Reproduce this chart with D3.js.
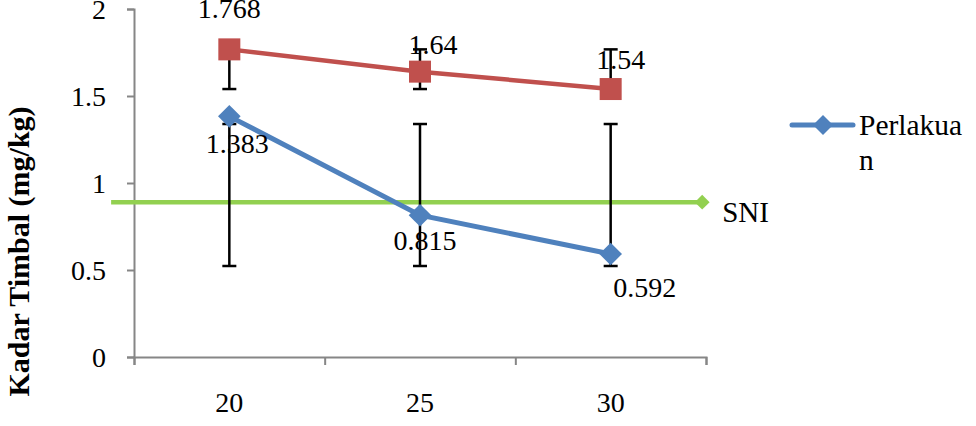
<!DOCTYPE html>
<html><head><meta charset="utf-8">
<script src="https://cdn.jsdelivr.net/npm/d3@7"></script>
<style>
html,body{margin:0;padding:0;background:#fff;}
</style></head>
<body><svg id="c" width="976" height="426"></svg>
<script>
// ---- data ----
const categories = [20, 25, 30];
const redValues = [1.768, 1.64, 1.54];
const redErrLow = [1.54, 1.54, 1.54];
const redErrHigh = [1.768, 1.768, 1.768];
const blueValues = [1.383, 0.815, 0.592];
const blueErrLow = [0.523, 0.523, 0.523];
const blueErrHigh = [1.339, 1.339, 1.339];
const sniValue = 0.89;
const sniX = [16.9, 32.4];
const yTicks = [0, 0.5, 1, 1.5, 2];
const blueName = "Perlakuan";
const sniName = "SNI";
const yTitle = "Kadar Timbal (mg/kg)";

// ---- layout (label nudges in px) ----
const redLabelNudge = [[0, -31], [13, -18], [10, -20]];
const blueLabelNudge = [[8, 37], [5, 35], [34, 43]];

const FONT = "'Liberation Serif', 'DejaVu Serif', serif";
const svg = d3.select("#c").style("font-family", FONT);
const x = d3.scaleLinear().domain([17.5, 32.5]).range([134, 706]);
const y = d3.scaleLinear().domain([0, 2]).range([357, 9]);
const axisColor = "#868686";
const fs = 28;

// y axis
const yAx = svg.append("g").attr("transform", "translate(134,0)")
  .call(d3.axisLeft(y).tickValues(yTicks).tickSize(7).tickPadding(21).tickFormat(d3.format("")));
yAx.attr("font-family", null).style("font-family", FONT);
yAx.select(".domain").attr("stroke", axisColor).attr("stroke-width", 2);
yAx.selectAll(".tick line").attr("stroke", axisColor).attr("stroke-width", 2);
yAx.selectAll(".tick text").attr("font-size", fs).attr("fill", "#000")
  .style("font-family", FONT).attr("dy", "0.35em");

// x axis (category boundaries as ticks)
const bounds = [17.5, 22.5, 27.5, 32.5];
const xAx = svg.append("g").attr("transform", "translate(0,357)")
  .call(d3.axisBottom(x).tickValues(bounds).tickSize(8).tickFormat(""));
xAx.select(".domain").attr("stroke", axisColor).attr("stroke-width", 2);
xAx.selectAll(".tick line").attr("stroke", axisColor).attr("stroke-width", 2);
svg.append("g").selectAll("text").data(categories).join("text")
  .attr("x", d => x(d)).attr("y", 412).attr("text-anchor", "middle")
  .attr("font-size", fs).style("font-family", FONT).text(d => d);

// y title
svg.append("text").attr("transform", `translate(29,251.5) rotate(-90)`)
  .attr("text-anchor", "middle").attr("font-size", 30).attr("font-weight", "bold")
  .style("font-family", FONT).text(yTitle);

// SNI line
const green = "#92D050";
svg.append("line").attr("x1", x(sniX[0])).attr("x2", x(sniX[1]))
  .attr("y1", y(sniValue)).attr("y2", y(sniValue))
  .attr("stroke", green).attr("stroke-width", 4.5);
svg.append("path").attr("d", d3.symbol().type(d3.symbolSquare).size(110)())
  .attr("transform", `translate(${x(sniX[1])},${y(sniValue)}) rotate(45)`).attr("fill", green);
svg.append("text").attr("x", x(sniX[1]) + 20).attr("y", y(sniValue) + 20)
  .attr("font-size", 29).style("font-family", FONT).text(sniName);

// error bars
function errBars(lo, hi) {
  const g = svg.append("g").attr("stroke", "#000").attr("stroke-width", 2.5);
  categories.forEach((c, i) => {
    const cx = x(c);
    g.append("line").attr("x1", cx).attr("x2", cx).attr("y1", y(lo[i])).attr("y2", y(hi[i]));
    [lo[i], hi[i]].forEach(v => g.append("line").attr("x1", cx - 7).attr("x2", cx + 7)
      .attr("y1", y(v)).attr("y2", y(v)));
  });
}
errBars(redErrLow, redErrHigh);
errBars(blueErrLow, blueErrHigh);

// lines
const line = d3.line().x((d, i) => x(categories[i])).y(d => y(d));
const red = "#C0504D", blue = "#4F81BD";
svg.append("path").datum(redValues).attr("d", line).attr("fill", "none")
  .attr("stroke", red).attr("stroke-width", 4.5);
svg.append("path").datum(blueValues).attr("d", line).attr("fill", "none")
  .attr("stroke", blue).attr("stroke-width", 5);

// markers
svg.append("g").selectAll("rect").data(redValues).join("rect")
  .attr("x", (d, i) => x(categories[i]) - 11).attr("y", d => y(d) - 11)
  .attr("width", 22).attr("height", 22).attr("fill", red);
svg.append("g").selectAll("path").data(blueValues).join("path")
  .attr("d", d3.symbol().type(d3.symbolSquare).size(256)())
  .attr("transform", (d, i) => `translate(${x(categories[i])},${y(d)}) rotate(45)`)
  .attr("fill", blue);

// data labels
svg.append("g").selectAll("text").data(redValues).join("text")
  .attr("x", (d, i) => x(categories[i]) + redLabelNudge[i][0])
  .attr("y", (d, i) => y(d) + redLabelNudge[i][1])
  .attr("text-anchor", "middle").attr("font-size", fs).style("font-family", FONT).text(d => d);
svg.append("g").selectAll("text").data(blueValues).join("text")
  .attr("x", (d, i) => x(categories[i]) + blueLabelNudge[i][0])
  .attr("y", (d, i) => y(d) + blueLabelNudge[i][1])
  .attr("text-anchor", "middle").attr("font-size", fs).style("font-family", FONT).text(d => d);

// legend
const lg = svg.append("g").attr("transform", "translate(792,125)");
lg.append("line").attr("x1", 0).attr("x2", 61).attr("stroke", blue).attr("stroke-width", 5)
  .attr("stroke-linecap", "round");
lg.append("path").attr("d", d3.symbol().type(d3.symbolSquare).size(200)())
  .attr("transform", "translate(31,0) rotate(45)").attr("fill", blue);
lg.append("text").attr("x", 67).attr("y", 10).attr("font-size", 29.5).style("font-family", FONT).text(blueName.slice(0, 8));
lg.append("text").attr("x", 67).attr("y", 45).attr("font-size", 29.5).style("font-family", FONT).text(blueName.slice(8));
</script></body></html>
